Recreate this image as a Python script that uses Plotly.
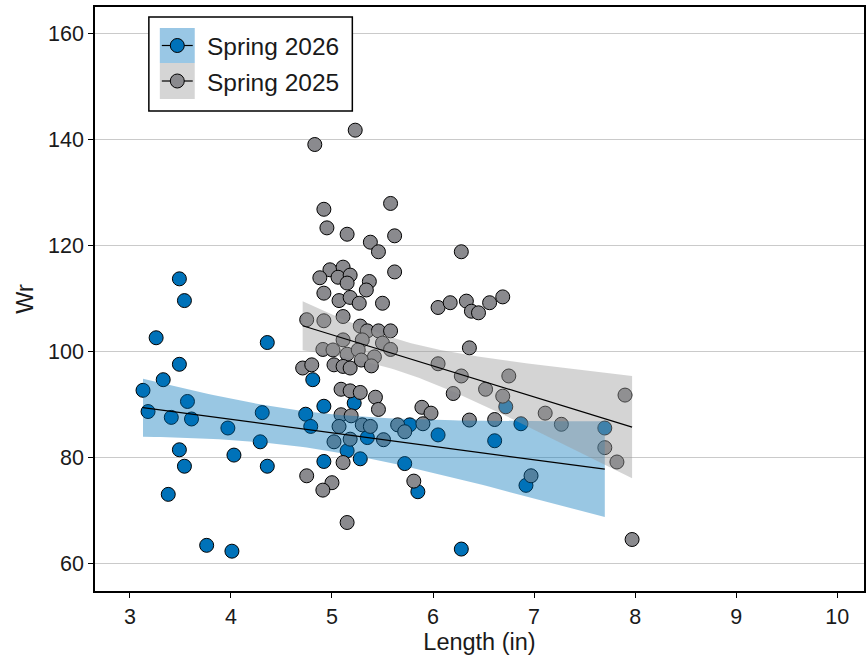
import numpy as np
import plotly.graph_objects as go

# ---------------- data ----------------
series_names = ["Spring 2026", "Spring 2025"]

len_2026 = [3.13, 3.18, 3.26, 3.33, 3.38, 3.41, 3.49, 3.49, 3.49, 3.54,
            3.54, 3.57, 3.61, 3.76, 3.97, 4.01, 4.03, 4.29, 4.31, 4.36,
            4.36, 4.74, 4.79, 4.81, 4.92, 4.92, 5.15, 5.22, 5.28, 5.35,
            5.72, 5.77, 5.85, 6.05, 6.28, 6.61, 6.72, 6.87, 6.92, 7.70]
wr_2026 = [92.7, 88.7, 102.6, 94.7, 73.1, 87.6, 113.7, 97.6, 81.5, 109.6,
           78.4, 90.6, 87.3, 63.5, 85.6, 62.4, 80.5, 83.0, 88.5, 101.7,
           78.4, 88.2, 85.9, 94.7, 89.7, 79.3, 81.3, 90.3, 79.8, 83.8,
           78.9, 86.2, 73.6, 84.3, 62.8, 83.2, 89.6, 86.4, 74.8, 85.6]

len_2025 = [4.83, 5.23, 4.92, 5.58, 4.95, 5.15, 5.62, 5.38, 5.46, 6.28,
            4.98, 5.11, 4.88, 5.06, 5.18, 5.62, 5.15, 5.37, 5.34, 4.92,
            5.07, 5.18, 5.27, 5.50, 6.05, 6.17, 6.33, 6.38, 6.45, 6.56,
            6.69, 5.11, 4.75, 4.92, 5.28, 5.35, 5.46, 5.58, 5.11, 5.30,
            5.50, 5.58, 4.91, 5.01, 5.15, 5.26, 5.42, 6.36, 6.05, 4.71,
            4.80, 5.02, 5.11, 5.18, 5.29, 5.39, 6.28, 6.75, 6.52, 6.69,
            6.20, 5.09, 5.18, 5.28, 5.43, 5.46, 5.89, 5.98, 7.11, 7.27,
            7.90, 7.70, 7.82, 7.97, 6.36, 6.61, 5.09, 5.19, 5.07, 5.30,
            5.38, 5.02, 5.18, 5.51, 5.65, 5.72, 5.90, 5.11, 4.75, 5.00,
            4.91, 5.81, 5.15, 6.97]
wr_2025 = [139.0, 141.7, 126.8, 127.9, 123.3, 122.1, 121.8, 120.6, 118.8, 118.8,
           115.4, 115.9, 113.9, 114.0, 114.4, 115.0, 112.9, 113.2, 111.6, 111.0,
           109.6, 110.2, 109.1, 109.1, 108.3, 109.2, 109.5, 107.6, 107.3, 109.2,
           110.3, 106.6, 106.0, 105.8, 104.8, 103.9, 103.9, 103.9, 102.2, 102.2,
           101.6, 100.4, 100.4, 100.3, 99.5, 100.3, 99.0, 100.7, 97.7, 96.9,
           97.5, 97.5, 97.2, 96.9, 98.4, 97.3, 95.4, 95.4, 92.9, 91.6,
           92.1, 92.9, 92.6, 92.3, 91.4, 89.1, 89.5, 88.4, 88.4, 86.3,
           91.8, 81.9, 79.2, 64.6, 87.1, 87.2, 88.1, 87.9, 85.9, 86.2,
           85.9, 83.0, 83.5, 83.4, 86.2, 84.9, 86.4, 79.1, 76.6, 75.3,
           73.9, 75.6, 67.8, 76.6]

x_ticks = [3, 4, 5, 6, 7, 8, 9, 10]
y_ticks = [60, 80, 100, 120, 140, 160]

# ---------------- styles ----------------
BLUE = "#0072B9"
GRAY = "#8A8A8E"
BLUE_RIB = "rgba(0,114,185,0.40)"
GRAY_RIB = "rgba(153,153,153,0.42)"
FONT = "Liberation Sans, Arial, sans-serif"
TXT = "#1a1a1a"


def t_quantile(df):
    # Cornish-Fisher expansion of the Student t 0.975 quantile
    z = 1.959963985
    g1 = (z ** 3 + z) / 4
    g2 = (5 * z ** 5 + 16 * z ** 3 + 3 * z) / 96
    g3 = (3 * z ** 7 + 19 * z ** 5 + 17 * z ** 3 - 15 * z) / 384
    return z + g1 / df + g2 / df ** 2 + g3 / df ** 3


def lm_band(x, y, n=80):
    x = np.asarray(x, float)
    y = np.asarray(y, float)
    b1, b0 = np.polyfit(x, y, 1)
    xs = np.linspace(x.min(), x.max(), n)
    yh = b0 + b1 * xs
    df = len(x) - 2
    s = np.sqrt(np.sum((y - (b0 + b1 * x)) ** 2) / df)
    sxx = np.sum((x - x.mean()) ** 2)
    se = s * np.sqrt(1 / len(x) + (xs - x.mean()) ** 2 / sxx)
    t = t_quantile(df)
    return xs, yh, yh - t * se, yh + t * se


fig = go.Figure()

# points
for xs, ys, col, nm in [(len_2026, wr_2026, BLUE, series_names[0]),
                        (len_2025, wr_2025, GRAY, series_names[1])]:
    fig.add_trace(go.Scatter(x=xs, y=ys, mode="markers", name=nm, showlegend=False,
                             marker=dict(size=14, color=col,
                                         line=dict(color="black", width=1))))

# ribbons + fit lines
for xs, ys, rib in [(len_2026, wr_2026, BLUE_RIB), (len_2025, wr_2025, GRAY_RIB)]:
    gx, gy, lo, hi = lm_band(xs, ys)
    fig.add_trace(go.Scatter(x=np.concatenate([gx, gx[::-1]]),
                             y=np.concatenate([hi, lo[::-1]]),
                             fill="toself", fillcolor=rib, mode="lines",
                             line=dict(width=0), hoverinfo="skip", showlegend=False))
for xs, ys in [(len_2026, wr_2026), (len_2025, wr_2025)]:
    gx, gy, lo, hi = lm_band(xs, ys)
    fig.add_trace(go.Scatter(x=gx, y=gy, mode="lines",
                             line=dict(color="black", width=1.2),
                             hoverinfo="skip", showlegend=False))

# ---------------- layout ----------------
L, R, T, B = 95, 866, 7, 591
W, H = 867, 658


def px(xp):
    return (xp - L) / (R - L)


def py(yp):
    return (B - yp) / (B - T)


shapes = []
annotations = []
# legend box
shapes.append(dict(type="rect", xref="paper", yref="paper",
                   x0=px(149), x1=px(353), y0=py(111), y1=py(17),
                   line=dict(color="black", width=1.5), fillcolor="white", layer="above"))
leg_rows = [(series_names[0], BLUE, "rgb(153,199,229)", 28, 63),
            (series_names[1], GRAY, "rgb(213,213,213)", 63, 99)]
for nm, col, bg, ya, yb in leg_rows:
    yc = (ya + yb) / 2
    shapes.append(dict(type="rect", xref="paper", yref="paper",
                       x0=px(160), x1=px(195), y0=py(yb), y1=py(ya),
                       line=dict(width=0), fillcolor=bg, layer="above"))
    shapes.append(dict(type="line", xref="paper", yref="paper",
                       x0=px(162), x1=px(193), y0=py(yc), y1=py(yc),
                       line=dict(color="black", width=1.2), layer="above"))
    shapes.append(dict(type="circle", xref="paper", yref="paper",
                       xsizemode="pixel", ysizemode="pixel",
                       xanchor=px(177.5), yanchor=py(yc),
                       x0=-7, x1=7, y0=-7, y1=7,
                       line=dict(color="black", width=1), fillcolor=col, layer="above"))
    annotations.append(dict(xref="paper", yref="paper", x=px(205), y=py(yc + 1),
                            text=nm, showarrow=False, xanchor="left", yanchor="middle",
                            font=dict(family=FONT, size=24.5, color=TXT)))

fig.update_layout(
    width=W, height=H,
    margin=dict(l=L, r=W - R, t=T, b=H - B),
    plot_bgcolor="white", paper_bgcolor="white",
    font=dict(family=FONT, color=TXT),
    showlegend=False,
    shapes=shapes, annotations=annotations,
    xaxis=dict(range=[2.655, 10.265], tickvals=x_ticks, ticktext=[str(v) for v in x_ticks],
               showgrid=False, zeroline=False, showline=True, linecolor="black", linewidth=1.5,
               mirror=True, ticks="outside", ticklen=5, tickwidth=1.2, tickcolor="black",
               tickfont=dict(size=21.5, color=TXT),
               title=dict(text="Length (in)", font=dict(size=23.5, color=TXT), standoff=4)),
    yaxis=dict(range=[54.9, 164.9], tickvals=y_ticks, ticktext=[str(v) for v in y_ticks],
               showgrid=True, gridcolor="#CACACA", gridwidth=1.4, zeroline=False,
               showline=True, linecolor="black", linewidth=1.5, mirror=True,
               ticks="outside", ticklen=5, tickwidth=1.2, tickcolor="black",
               tickfont=dict(size=21.5, color=TXT),
               title=dict(text="Wr", font=dict(size=23.5, color=TXT), standoff=8)),
)

fig.write_html("out.html")
